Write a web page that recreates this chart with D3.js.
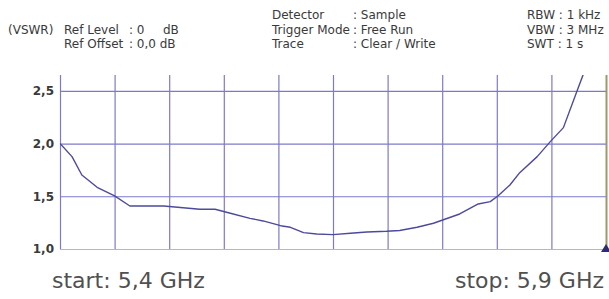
<!DOCTYPE html>
<html>
<head>
<meta charset="utf-8">
<script src="https://cdn.jsdelivr.net/npm/d3@7"></script>
<style>
body { margin:0; background:#fff; }
svg text { font-family: "DejaVu Sans", Verdana, sans-serif; }
</style>
</head>
<body>
<div id="graph"></div>
<script>
// trace values
var freqGHz = [5.400,5.411,5.420,5.434,5.450,5.464,5.495,5.528,5.542,5.556,5.574,5.586,5.602,5.611,5.623,5.635,5.650,5.666,5.681,5.699,5.711,5.727,5.742,5.766,5.783,5.794,5.801,5.812,5.821,5.837,5.849,5.861,5.875,5.879];
var vswr    = [2.000,1.876,1.702,1.585,1.503,1.408,1.408,1.377,1.377,1.339,1.291,1.266,1.221,1.206,1.155,1.142,1.136,1.149,1.161,1.168,1.176,1.206,1.244,1.332,1.427,1.449,1.503,1.607,1.724,1.876,2.018,2.151,2.540,2.651];
var yTicks  = [1.0, 1.5, 2.0, 2.5];
var headLeft  = [["(VSWR)", "Ref Level", ": 0", "dB"], ["", "Ref Offset", ": 0,0 dB", ""]];
var headMid   = [["Detector", ": Sample"], ["Trigger Mode", ": Free Run"], ["Trace", ": Clear / Write"]];
var headRight = ["RBW : 1 kHz", "VBW : 3 MHz", "SWT : 1 s"];
var startLabel = "start: 5,4 GHz", stopLabel = "stop: 5,9 GHz";

var width = 609, height = 299;
var padding = {left:60, right:3, top:75, bottom:50};
var gridCol = "#7d7acb", traceCol = "#4d4a9c";

var graph = d3.select("div#graph").append("svg")
	.attr("width", width)
	.attr("height", height);

var xScale = d3.scaleLinear()
	.range([padding.left, width - padding.right])
	.domain([5.4, 5.9]);

var yScale = d3.scaleLinear()
	.range([height - padding.bottom, padding.top])
	.domain([1.0, 2.65]);

var comma = function(d) { return d3.format(".1f")(d).replace(".", ","); };

// vertical grid, 10 divisions
var xGrid = d3.axisBottom(xScale)
	.tickValues(d3.range(11).map(function(i) { return 5.4 + i*0.05; }))
	.tickSize(-(height - padding.bottom - padding.top))
	.tickFormat("");
graph.append("g")
	.attr("class", "x grid")
	.attr("transform", `translate(0, ${height - padding.bottom})`)
	.call(xGrid)
	.call(g => g.select(".domain").remove())
	.selectAll("line")
	.attr("stroke", (d, i) => i == 10 ? "#9a9a6a" : gridCol)
	.attr("stroke-width", (d, i) => i == 10 ? 2 : 1.2);

var yAxis = d3.axisLeft(yScale)
	.tickValues(yTicks)
	.tickSize(-(width - padding.right - padding.left))
	.tickPadding(6)
	.tickFormat(comma);
graph.append("g")
	.attr("class", "y axis")
	.attr("transform", `translate(${padding.left}, 0)`)
	.call(yAxis)
	.call(g => g.select(".domain").remove())
	.call(g => g.selectAll("line")
		.attr("stroke", d => d == 1 ? "#b4b2e2" : gridCol)
		.attr("stroke-width", 1.2))
	.call(g => g.selectAll("text")
		.attr("fill", "#3a3a3a")
		.style("font-size", "12px")
		.style("font-weight", "bold"));

graph.append("clipPath").attr("id", "plotclip")
	.append("rect")
	.attr("x", padding.left)
	.attr("y", padding.top)
	.attr("width", width - padding.right - padding.left)
	.attr("height", height - padding.bottom - padding.top);

var line = d3.line()
	.x(function(d, i) { return xScale(freqGHz[i]); })
	.y(function(d) { return yScale(d); });

graph.append("path").datum(vswr)
	.attr("clip-path", "url(#plotclip)")
	.attr("fill", "none")
	.attr("stroke", traceCol)
	.attr("stroke-width", 1.4)
	.attr("stroke-linejoin", "round")
	.attr("d", line);

// marker at the stop frequency
var mx = xScale(5.9), my = yScale(1.0);
graph.append("path")
	.attr("d", `M${mx - 5},${my + 3}L${mx},${my - 5}L${mx + 5},${my + 3}Z`)
	.attr("fill", "#2e2a7a");

// header text
var head = graph.append("g").attr("class", "header")
	.style("font-size", "12px").attr("fill", "#3a3a3a");
var rowY = [19, 34, 48];
headLeft.forEach(function(r, i) {
	var y = rowY[i + 1];
	head.append("text").attr("x", 8).attr("y", y).text(r[0]);
	head.append("text").attr("x", 64).attr("y", y).text(r[1]);
	head.append("text").attr("x", 129).attr("y", y).text(r[2]);
	head.append("text").attr("x", 163).attr("y", y).text(r[3]);
});
headMid.forEach(function(r, i) {
	head.append("text").attr("x", 272).attr("y", rowY[i]).text(r[0]);
	head.append("text").attr("x", 353).attr("y", rowY[i]).text(r[1]);
});
headRight.forEach(function(t, i) {
	head.append("text").attr("x", 527).attr("y", rowY[i]).text(t);
});

graph.append("text")
	.attr("x", 52).attr("y", 288)
	.attr("fill", "#505050")
	.style("font-size", "22px")
	.text(startLabel);
graph.append("text")
	.attr("x", 604).attr("y", 288)
	.attr("fill", "#505050")
	.style("text-anchor", "end")
	.style("font-size", "22px")
	.text(stopLabel);
</script>
</body>
</html>
